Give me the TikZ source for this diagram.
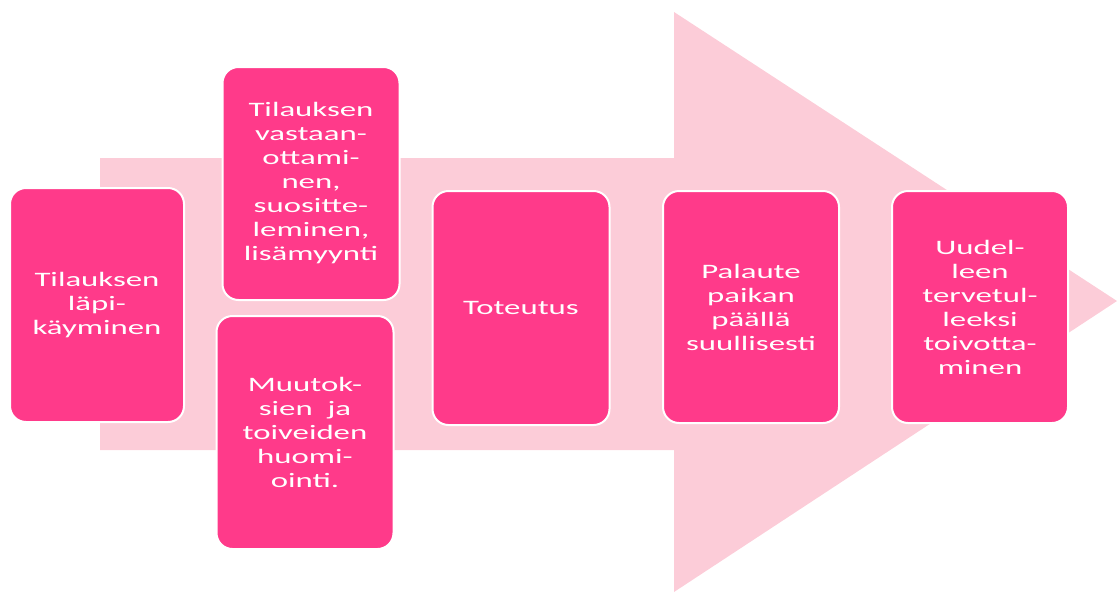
\documentclass[tikz,border=0pt]{standalone}
\usepackage{fontspec}
\setmainfont{Carlito}[FakeStretch=1.6]
\definecolor{arrowpink}{HTML}{FCCCD8}
\definecolor{boxpink}{HTML}{FF3A8A}
\begin{document}
\begin{tikzpicture}[x=1pt,y=-1pt,
  stage/.style={draw=white, line width=2pt, fill=boxpink, rounded corners=16pt,
    minimum width=177pt, minimum height=233pt, inner sep=0pt,
    text=white, align=center, font=\fontsize{20.5}{24}\selectfont}]
\useasboundingbox (0,0) rectangle (1117,592);
% background block arrow
\fill[arrowpink] (100,158) -- (674,158) -- (674,12) -- (1117,301)
  -- (674,592) -- (674,450) -- (100,450) -- cycle;
% process stages
\node[stage, minimum width=174pt, minimum height=234pt] (s1) at (97,305)
  {Tilauksen\\läpi-\\käyminen};
\node[stage] (s2) at (311,183.5)
  {Tilauksen\\vastaan-\\ottami-\\nen,\\suositte-\\leminen,\\lisämyynti};
\node[stage] (s3) at (305,432.5)
  {Muutok-\\sien\ \ ja\\toiveiden\\huomi-\\ointi.};
\node[stage, minimum height=234pt] (s4) at (521,308) {Toteutus};
\node[stage, minimum width=176pt, minimum height=232pt] (s5) at (751,307)
  {Palaute\\paikan\\päällä\\suullisesti};
\node[stage, minimum width=176pt, minimum height=232pt] (s6) at (980,307)
  {Uudel-\\leen\\tervetul-\\leeksi\\toivotta-\\minen};
\end{tikzpicture}
\end{document}
